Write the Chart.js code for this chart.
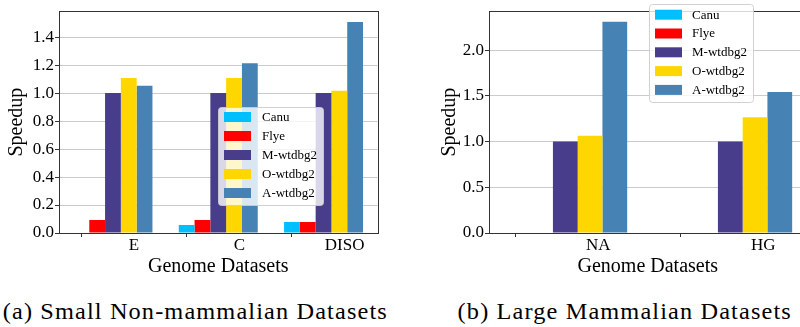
<!DOCTYPE html>
<html>
<head>
<meta charset="utf-8">
<script src="https://cdn.jsdelivr.net/npm/chart.js@4.4.0/dist/chart.umd.min.js"></script>
<style>
  html, body { margin: 0; padding: 0; background: #fff; width: 800px; height: 327px; overflow: hidden; position: relative; }
  .wrap { position: absolute; top: 0; }
  .cap { position: absolute; top: 298px; height: 28px; line-height: 28px; font-family: 'Liberation Serif', 'Times New Roman', serif; font-size: 22.5px; letter-spacing: 1.05px; color: #000; white-space: nowrap; text-align: center; }
  .cap span { display: inline-block; transform: scaleX(1.08); transform-origin: center; }
</style>
</head>
<body>
<div class="wrap" style="left:0;width:400px;height:290px;"><canvas id="chartA" width="400" height="290"></canvas></div>
<div class="wrap" style="left:400px;width:420px;height:290px;"><canvas id="chartB" width="420" height="290"></canvas></div>
<div class="cap" style="left:0;width:390px;"><span>(a) Small Non-mammalian Datasets</span></div>
<div class="cap" style="left:425px;width:400px;"><span>(b) Large Mammalian Datasets</span></div>
<script>
// ---- data ----
const seriesNames = ['Canu', 'Flye', 'M-wtdbg2', 'O-wtdbg2', 'A-wtdbg2'];
const seriesColors = ['#00BFFF', '#FF0000', '#483D8B', '#FFD700', '#4682B4'];

const categoriesA = ['E', 'C', 'DISO'];
const canuA = [0, 0.058, 0.079];
const flyeA = [0.093, 0.093, 0.079];
const mWtdbg2A = [1.0, 1.0, 1.0];
const oWtdbg2A = [1.108, 1.108, 1.017];
const aWtdbg2A = [1.052, 1.213, 1.508];
const yTicksA = [0.0, 0.2, 0.4, 0.6, 0.8, 1.0, 1.2, 1.4];

const categoriesB = ['NA', 'HG'];
const canuB = [0, 0];
const flyeB = [0, 0];
const mWtdbg2B = [1.0, 1.0];
const oWtdbg2B = [1.064, 1.265];
const aWtdbg2B = [2.31, 1.543];
const yTicksB = [0.0, 0.5, 1.0, 1.5, 2.0];

const FONT = "'Liberation Serif', 'Times New Roman', serif";
Chart.defaults.color = '#000';
Chart.defaults.font.family = FONT;

// frame + in-plot legend plugin
const framePlugin = {
  id: 'frameLegend',
  afterDraw(chart, args, opts) {
    const ctx = chart.ctx;
    const a = chart.chartArea;
    ctx.save();
    ctx.strokeStyle = '#333';
    ctx.lineWidth = 1;
    ctx.strokeRect(Math.round(a.left) + 0.5, Math.round(a.top) + 0.5, Math.round(a.right - a.left), Math.round(a.bottom - a.top));
    const L = opts;
    if (L && L.w) {
      ctx.beginPath();
      ctx.roundRect(L.x + 0.5, L.y + 0.5, L.w, L.h, 3);
      ctx.fillStyle = 'rgba(255,255,255,0.8)';
      ctx.fill();
      ctx.strokeStyle = 'rgba(204,204,204,0.9)';
      ctx.stroke();
      ctx.font = '13px ' + FONT;
      ctx.textBaseline = 'middle';
      ctx.textAlign = 'left';
      chart.data.datasets.forEach((ds, i) => {
        const cy = L.firstRow + i * L.rowH;
        ctx.fillStyle = ds.backgroundColor;
        ctx.fillRect(L.swatchX, cy - L.swatchH / 2, L.swatchW, L.swatchH);
        ctx.fillStyle = '#000';
        ctx.fillText(ds.label, L.textX, cy + 0.5);
      });
    }
    ctx.restore();
  }
};

function makeDatasets(seriesList) {
  return seriesList.map((vals, k) => ({
    label: seriesNames[k],
    backgroundColor: seriesColors[k],
    borderWidth: 0,
    data: vals.map((v, i) => ({ x: i, y: v })),
    categoryPercentage: 0.75,
    barPercentage: 1.0
  }));
}

function makeChart(id, cats, seriesList, yTicks, cfg) {
  return new Chart(document.getElementById(id), {
    type: 'bar',
    data: { datasets: makeDatasets(seriesList) },
    options: {
      responsive: false,
      animation: false,
      devicePixelRatio: 1,
      layout: { padding: { left: 0, top: 6, right: cfg.padRight, bottom: 0 } },
      plugins: {
        legend: { display: false },
        tooltip: { enabled: false },
        frameLegend: cfg.legend
      },
      scales: {
        x: {
          type: 'linear',
          min: cfg.xMin,
          max: cfg.xMax,
          offset: false,
          border: { display: false },
          grid: { drawOnChartArea: false, drawTicks: true, tickLength: 4, tickColor: '#333', tickWidth: 1 },
          afterBuildTicks: (s) => { s.ticks = cats.map((c, i) => ({ value: i + 0.2 })); },
          ticks: {
            autoSkip: false, maxRotation: 0, padding: 0,
            font: { size: 17, lineHeight: 1.0 },
            callback: (v, idx) => cats[idx]
          },
          title: { display: true, text: 'Genome Datasets', font: { size: 20, lineHeight: 1.2 }, padding: { top: 0, bottom: 11 } },
          afterFit: (s) => { s.height = 57; }
        },
        y: {
          min: 0,
          max: cfg.yMax,
          z: 1,
          border: { display: false },
          grid: { color: 'rgba(190,190,190,0.8)', lineWidth: 1, drawTicks: true, tickLength: 4, tickColor: '#333' },
          afterBuildTicks: (s) => { s.ticks = yTicks.map(v => ({ value: v })); },
          ticks: { padding: 1, font: { size: 17 }, callback: (v) => Number(v).toFixed(1) },
          title: { display: true, text: 'Speedup', font: { size: 20, lineHeight: 1.2 }, padding: { top: cfg.yTitlePad, bottom: 0 } },
          afterFit: (s) => { s.width = cfg.yWidth; }
        }
      }
    },
    plugins: [framePlugin]
  });
}

makeChart('chartA', categoriesA, [canuA, flyeA, mWtdbg2A, oWtdbg2A, aWtdbg2A], yTicksA, {
  xMin: -0.5125, xMax: 2.5125, yMax: 1.5855, padRight: 22.5, yWidth: 59, yTitlePad: 5,
  legend: { x: 218, y: 107, w: 105, h: 98, firstRow: 117, rowH: 19, swatchX: 224, swatchW: 27, swatchH: 10, textX: 262 }
});

makeChart('chartB', categoriesB, [canuB, flyeB, mWtdbg2B, oWtdbg2B, aWtdbg2B], yTicksB, {
  xMin: -0.4625, xMax: 1.4625, yMax: 2.4255, padRight: 13.4, yWidth: 89, yTitlePad: 38,
  legend: { x: 249, y: 4, w: 104, h: 98, firstRow: 14.7, rowH: 18.8, swatchX: 255, swatchW: 27, swatchH: 10, textX: 292 }
});
</script>
</body>
</html>
